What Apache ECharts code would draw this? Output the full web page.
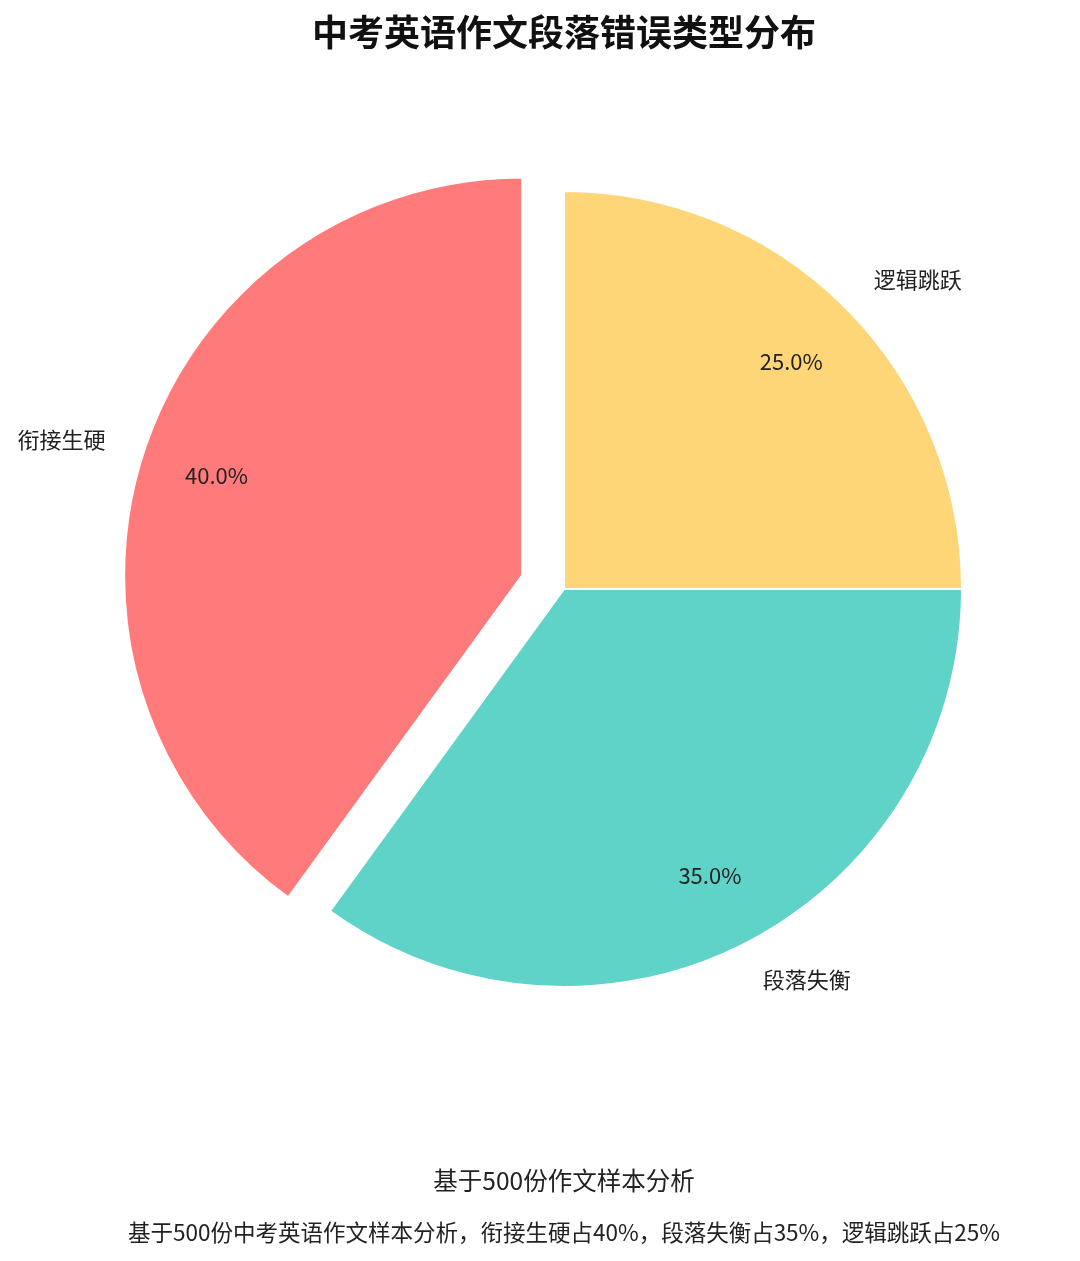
<!DOCTYPE html>
<html>
<head>
<meta charset="utf-8">
<script src="https://cdn.jsdelivr.net/npm/echarts@6/dist/echarts.min.js"></script>
<style>
html,body{margin:0;padding:0;background:#fff;}
#chart{width:1080px;height:1261px;}
</style>
</head>
<body>
<div id="chart"></div>
<script>
const categories = ['衔接生硬', '段落失衡', '逻辑跳跃'];
const values = [40, 35, 25];
const colors = ['#FF7A7A', '#60D3C9', '#FED677'];
const explodedIndex = 0;
const titleText = '中考英语作文段落错误类型分布';
const subText1 = '基于500份作文样本分析';
const subText2 = '基于500份中考英语作文样本分析，衔接生硬占40%，段落失衡占35%，逻辑跳跃占25%';

const FONT = '"Noto Sans CJK SC", "Noto Sans", sans-serif';
const R = 398;
const CENTER = [564, 589];
const OFFSET = 44;
const TEXT_X = 564;

function makeData(transparent) {
  return categories.map((c, i) => ({
    name: c,
    value: values[i],
    selected: i === explodedIndex,
    itemStyle: {
      color: transparent ? 'rgba(0,0,0,0)' : colors[i],
      borderColor: transparent ? 'rgba(0,0,0,0)' : '#ffffff',
      borderWidth: transparent ? 0 : 2
    }
  }));
}

const chart = echarts.init(document.getElementById('chart'), null, {renderer: 'canvas'});
chart.setOption({
  backgroundColor: '#ffffff',
  animation: false,
  graphic: [
    {type: 'text', x: TEXT_X, y: 32,
     style: {text: titleText, font: 'bold 36px ' + FONT, fill: '#111', align: 'center', verticalAlign: 'middle'}},
    {type: 'text', x: TEXT_X, y: 1181,
     style: {text: subText1, font: '24.5px ' + FONT, fill: '#222', align: 'center', verticalAlign: 'middle'}},
    {type: 'text', x: TEXT_X, y: 1232,
     style: {text: subText2, font: '22.5px ' + FONT, fill: '#222', align: 'center', verticalAlign: 'middle'}}
  ],
  series: [
    {
      type: 'pie',
      center: CENTER,
      radius: R,
      startAngle: 90,
      clockwise: false,
      avoidLabelOverlap: false,
      selectedMode: 'single',
      selectedOffset: OFFSET,
      data: makeData(false),
      label: {
        show: true,
        position: 'outside',
        formatter: '{b}',
        fontFamily: FONT,
        fontSize: 22,
        color: '#222',
        distanceToLabelLine: 0
      },
      labelLine: {show: false, length: 40, length2: 0},
      emphasis: {disabled: true, scale: false},
      select: {itemStyle: {borderColor: '#ffffff', borderWidth: 2}}
    },
    {
      type: 'pie',
      center: CENTER,
      radius: [R * 0.6, R],
      startAngle: 90,
      clockwise: false,
      avoidLabelOverlap: false,
      selectedMode: 'single',
      selectedOffset: OFFSET,
      silent: true,
      data: makeData(true),
      label: {
        show: true,
        position: 'inside',
        formatter: p => p.value.toFixed(1) + '%',
        fontFamily: FONT,
        fontSize: 22,
        color: '#222'
      },
      labelLine: {show: false},
      emphasis: {disabled: true, scale: false},
      select: {itemStyle: {color: 'rgba(0,0,0,0)', borderWidth: 0}}
    }
  ]
});
</script>
</body>
</html>
